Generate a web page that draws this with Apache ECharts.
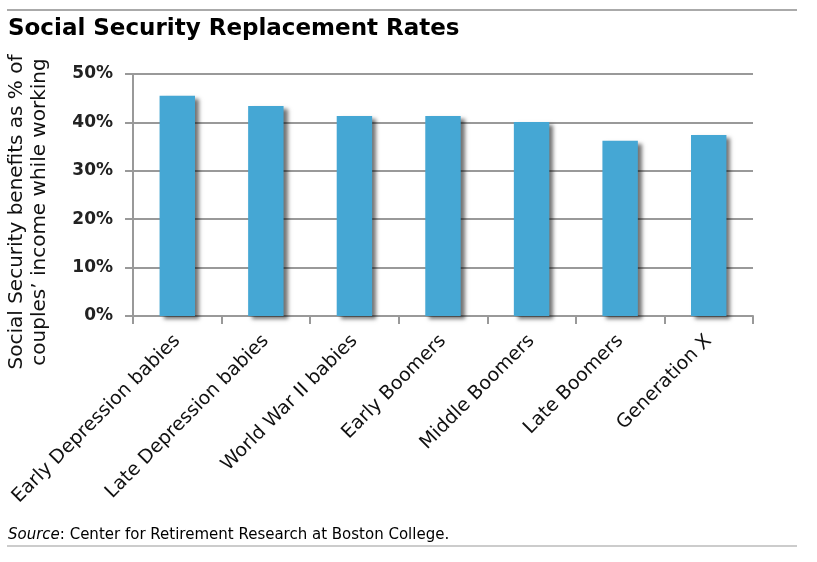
<!DOCTYPE html>
<html>
<head>
<meta charset="utf-8">
<script src="https://cdn.jsdelivr.net/npm/echarts@6/dist/echarts.min.js"></script>
<style>html,body{margin:0;padding:0;background:#fff}#c{width:817px;height:562px}</style>
</head>
<body>
<div id="c"></div>
<script>
const categories = ["Early Depression babies","Late Depression babies","World War II babies","Early Boomers","Middle Boomers","Late Boomers","Generation X"];
const values = [45.5, 43.4, 41.3, 41.3, 40.1, 36.2, 37.4];
const yTicks = [0, 10, 20, 30, 40, 50];

const chart = echarts.init(document.getElementById('c'));
chart.setOption({
  animation: false,
  backgroundColor: '#fff',
  title: {
    text: 'Social Security Replacement Rates',
    left: 3, top: 13,
    textStyle: {fontFamily: 'DejaVu Sans', fontWeight: 'bold', fontSize: 23, color: '#000'}
  },
  graphic: [
    {type: 'line', shape: {x1: 7, y1: 10, x2: 797, y2: 10}, style: {stroke: '#aaa', lineWidth: 2}},
    {type: 'line', shape: {x1: 7, y1: 546, x2: 797, y2: 546}, style: {stroke: '#ccc', lineWidth: 2}},
    {type: 'text', x: 28, y: 212, rotation: Math.PI / 2, style: {
      text: "Social Security benefits as % of\ncouples\u2019 income while working",
      fontFamily: 'DejaVu Sans', fontSize: 20, lineHeight: 23, fill: '#111',
      align: 'center', verticalAlign: 'middle'
    }},
    {type: 'text', left: 8, top: 528, style: {
      text: '{i|Source}: Center for Retirement Research at Boston College.',
      rich: {i: {fontStyle: 'italic', fontFamily: 'DejaVu Sans', fontSize: 15, fill: '#000'}},
      fontFamily: 'DejaVu Sans', fontSize: 15, fill: '#000'
    }}
  ],
  grid: {left: 133, right: 64, top: 74, bottom: 246, outerBoundsMode: 'none', containLabel: false},
  xAxis: {
    type: 'category',
    data: categories,
    axisLine: {lineStyle: {color: '#999', width: 2}},
    axisTick: {show: true, length: 8, lineStyle: {color: '#999', width: 2}},
    axisLabel: {rotate: 45, interval: 0, margin: 22, fontFamily: 'DejaVu Sans', fontSize: 19, color: '#111'}
  },
  yAxis: {
    type: 'value',
    min: 0, max: 50, interval: 10,
    axisLine: {show: true, lineStyle: {color: '#999', width: 2}},
    axisTick: {show: true, length: 8, lineStyle: {color: '#999', width: 2}},
    splitLine: {lineStyle: {color: '#999', width: 2}},
    axisLabel: {margin: 20, formatter: v => yTicks.includes(v) ? v + '%' : '', fontFamily: 'DejaVu Sans', fontWeight: 'bold', fontSize: 17, color: '#222'}
  },
  series: [{
    type: 'bar',
    data: values,
    barWidth: '40%',
    itemStyle: {color: '#45A7D4', shadowColor: 'rgba(0,0,0,0.55)', shadowBlur: 4, shadowOffsetX: 4, shadowOffsetY: 3}
  }]
});
</script>
</body>
</html>
